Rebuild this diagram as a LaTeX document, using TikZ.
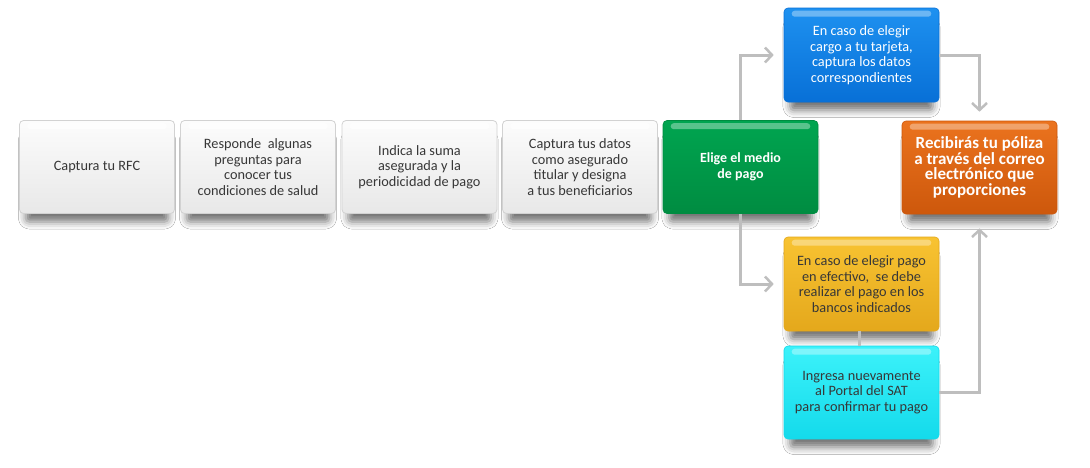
\documentclass[tikz,border=0pt]{standalone}
\usepackage{fontspec}
\setmainfont{Carlito}
\usetikzlibrary{arrows.meta,shadows.blur,calc}
\definecolor{txt}{RGB}{55,55,55}
\definecolor{conn}{RGB}{190,190,190}
\definecolor{wtop}{RGB}{252,252,252}
\definecolor{wbot}{RGB}{232,232,232}
\definecolor{wline}{RGB}{210,210,210}
\definecolor{btop}{RGB}{30,145,240}
\definecolor{bbot}{RGB}{8,112,215}
\definecolor{gtop}{RGB}{0,165,80}
\definecolor{gbot}{RGB}{0,140,65}
\definecolor{otop}{RGB}{235,115,30}
\definecolor{obot}{RGB}{205,88,12}
\definecolor{ytop}{RGB}{248,195,50}
\definecolor{ybot}{RGB}{228,168,28}
\definecolor{ctop}{RGB}{60,242,250}
\definecolor{cbot}{RGB}{20,218,235}
\tikzset{
  base/.style={rounded corners=4pt, minimum width=155pt, minimum height=93pt,
    align=center, font=\fontsize{14.3}{15.5}\selectfont, inner sep=0pt,
    blur shadow={shadow xshift=0pt, shadow yshift=-13pt, shadow scale=0.92, shadow blur radius=8pt, shadow opacity=55}},
  wbox/.style={base, top color=wtop, bottom color=wbot, draw=wline, line width=0.8pt, text=txt},
  cbox/.style={base, top color=#1top, bottom color=#1bot, draw=#1bot, line width=0.6pt},
  line/.style={draw=conn, line width=3pt},
  conn/.style={line, -{Straight Barb[length=7pt,width=15pt,line width=2.5pt]}},
}
\newcommand\glossy[2]{\fill[white,opacity=#2,rounded corners=3pt] ([xshift=8pt,yshift=-3pt]#1.north west) rectangle ([xshift=-8pt,yshift=-9pt]#1.north east);}
\begin{document}
\begin{tikzpicture}[x=1pt,y=-1pt]
\useasboundingbox[fill=white] (0,0) rectangle (1090,467);
\node[wbox] (b1) at (97,167) {Captura tu RFC};
\node[wbox] (b2) at (258,167) {Responde\ \ algunas\\preguntas para\\conocer tus\\condiciones de salud};
\node[wbox] (b3) at (419.5,167) {Indica la suma\\asegurada y la\\periodicidad de pago};
\node[wbox] (b4) at (580,167) {Captura tus datos\\como asegurado\\titular y designa\\a tus beneficiarios};
\node[cbox=g, text=white, font=\fontsize{14}{15.5}\selectfont\bfseries] (green) at (740.5,167) {Elige el medio\\de pago};
\node[cbox=b, text=white, minimum height=94pt] (blue) at (861.5,55) {En caso de elegir\\cargo a tu tarjeta,\\captura los datos\\correspondientes};
\node[cbox=o, text=white, font=\fontsize{17}{15.5}\selectfont\bfseries] (orange) at (979.5,167.5) {Recibirás tu póliza\\a través del correo\\electrónico que\\proporciones};
\node[cbox=y, text=txt, minimum height=94pt] (yellow) at (861.5,284) {En caso de elegir pago\\en efectivo,\ \ se debe\\realizar el pago en los\\bancos indicados};
\node[cbox=c, text=txt] (cyan) at (861.5,392.5) {Ingresa nuevamente\\al Portal del SAT\\para confirmar tu pago};
\foreach \n in {b1,b2,b3,b4}{\glossy{\n}{0.6}}
\foreach \n in {green,blue,orange,yellow,cyan}{\glossy{\n}{0.35}}
\draw[conn, shorten >=10pt] (green.north) |- (blue.west);
\draw[conn, shorten >=10pt] (green.south) |- (yellow.west);
\draw[conn, shorten >=9pt] (blue.east) -| (orange.north);
\draw[conn, shorten >=14pt] (cyan.east) -| (orange.south);
\draw[line] ([xshift=-2pt]yellow.south) -- ([xshift=-2pt]cyan.north);
\end{tikzpicture}
\end{document}
